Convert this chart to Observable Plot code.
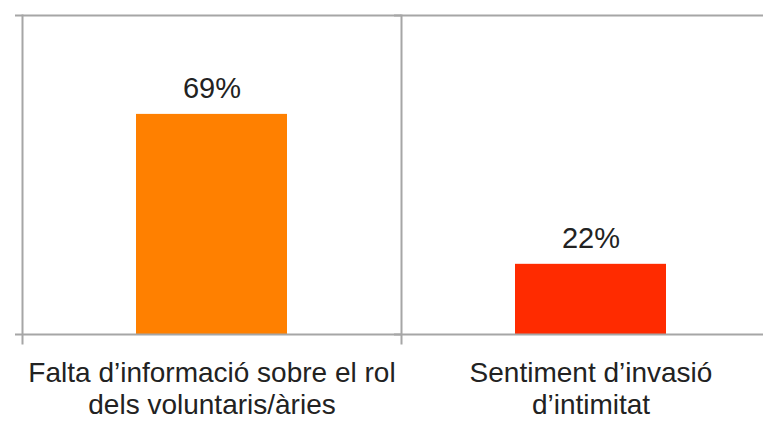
<!DOCTYPE html>
<html>
<head>
<meta charset="utf-8">
<script src="https://cdn.jsdelivr.net/npm/d3@7"></script>
<script src="https://cdn.jsdelivr.net/npm/@observablehq/plot@0.6"></script>
<style>
  html, body { margin: 0; padding: 0; background: #fff; }
</style>
</head>
<body>
<div id="chart"></div>
<script>
const categories = ["Falta d\u2019informació sobre el rol\ndels voluntaris/àries", "Sentiment d\u2019invasió\nd\u2019intimitat"];
const values = [69, 22];
const valueLabels = ["69%", "22%"];
const colors = ["#FF8000", "#FF2B00"];

const data = categories.map((c, i) => ({cat: c, value: values[i], label: valueLabels[i]}));
const gray = "#a6a6a6";

const chart = Plot.plot({
  width: 763,
  height: 421,
  marginTop: 15,
  marginBottom: 87,
  marginLeft: 22,
  marginRight: -17,
  style: {fontFamily: "'Liberation Sans', Arial, sans-serif", background: "white", overflow: "hidden"},
  fx: {domain: categories, padding: 0, label: null},
  x: {domain: ["bar"], paddingInner: 0, paddingOuter: 0.75, axis: null},
  y: {domain: [0, 100], axis: null},
  color: {domain: categories, range: colors},
  marks: [
    Plot.barY(data, {fx: "cat", x: () => "bar", y: "value", fill: "cat"}),
    Plot.frame({anchor: "left", stroke: gray, strokeWidth: 2, insetBottom: -9}),
    Plot.ruleY([0, 100], {stroke: gray, strokeWidth: 2, insetLeft: -7}),
    Plot.text(data, {fx: "cat", x: () => "bar", y: "value", text: "label", dy: -16, lineAnchor: "bottom", fontSize: 29, fill: "#222"}),
    Plot.axisFx({anchor: "bottom", tickSize: 0, tickPadding: 25, fontSize: 28, lineHeight: 1.14, fill: "#222", label: null})
  ]
});
document.getElementById("chart").appendChild(chart);
</script>
</body>
</html>
